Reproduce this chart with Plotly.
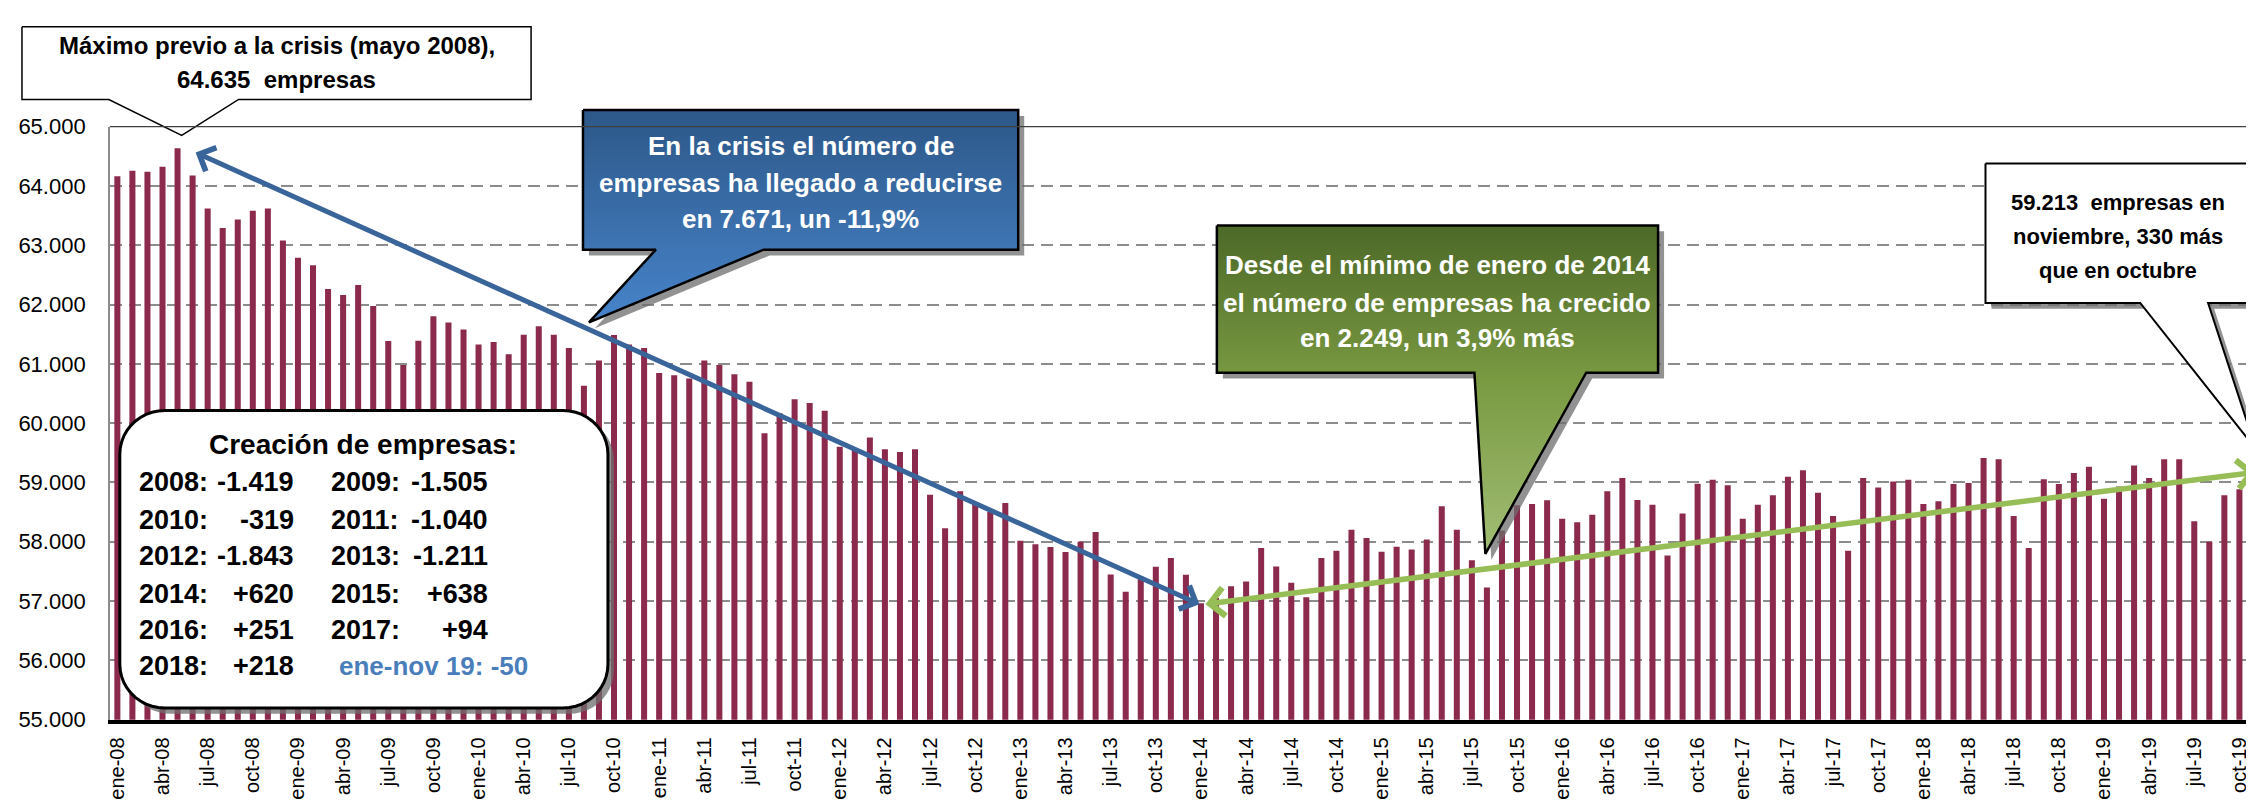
import numpy as np
import plotly.graph_objects as go

W, H = 2254, 807
FONT = "Liberation Sans, Arial, sans-serif"

# ---------------- data ----------------
MONTHS = ['ene', 'feb', 'mar', 'abr', 'may', 'jun', 'jul', 'ago', 'sep', 'oct', 'nov', 'dic']
YEARS = list(range(2008, 2020))
periodos = [f"{m}-{y % 100:02d}" for y in YEARS for m in MONTHS][:143]

empresas = [
    64164, 64257, 64240, 64322, 64635, 64175, 63620, 63290, 63435, 63580, 63620, 63080,  # 2008
    62790, 62660, 62260, 62160, 62330, 61973, 61384, 60980, 61390, 61800, 61697, 61578,  # 2009
    61324, 61368, 61162, 61492, 61632, 61492, 61265, 60632, 61054, 61486, 61324, 61265,  # 2010
    60846, 60808, 60753, 61054, 60978, 60824, 60698, 59830, 60165, 60401, 60340, 60210,  # 2011
    59601, 59574, 59758, 59558, 59514, 59558, 58790, 58227, 58850, 58640, 58503, 58653,  # 2012
    58016, 57957, 57913, 57827, 58000, 58162, 57449, 57157, 57411, 57579, 57725, 57442,  # 2013
    56964, 57050, 57249, 57330, 57892, 57584, 57308, 57065, 57724, 57849, 58200, 58062,  # 2014
    57832, 57914, 57870, 58038, 58600, 58200, 57686, 57227, 58189, 58616, 58638, 58700,  # 2015
    58389, 58330, 58454, 58849, 59076, 58703, 58622, 57768, 58476, 58978, 59043, 58951,  # 2016
    58389, 58622, 58784, 59097, 59205, 58827, 58432, 57849, 59076, 58914, 59016, 59045,  # 2017
    58638, 58681, 58973, 58989, 59411, 59389, 58432, 57892, 59054, 58973, 59157, 59263,  # 2018
    58724, 58930, 59286, 59076, 59389, 59389, 58346, 58000, 58784, 58883, 59213,         # 2019
]

creacion_anios_1 = ["2008:", "2010:", "2012:", "2014:", "2016:", "2018:"]
creacion_valores_1 = ["-1.419", "-319", "-1.843", "+620", "+251", "+218"]
creacion_anios_2 = ["2009:", "2011:", "2013:", "2015:", "2017:"]
creacion_valores_2 = ["-1.505", "-1.040", "-1.211", "+638", "+94"]
creacion_ultimo = "ene-nov 19: -50"

y_ticks = list(range(55000, 65001, 1000))


def miles(v):
    return f"{int(v):,}".replace(",", ".")


def pct(v):
    return f"{v:.1f}".replace(".", ",")


n = len(empresas)
x_idx = np.arange(n)
imax = int(np.argmax(empresas))
imin = int(np.argmin(empresas))
vmax, vmin = empresas[imax], empresas[imin]
last, prev = empresas[-1], empresas[-2]

# ---------------- layout geometry (pixels) ----------------
PX_L, PX_R = 98, W
PY_T, PY_B = 110, 722

fig = go.Figure()

fig.add_trace(go.Bar(
    x=x_idx, y=empresas, marker=dict(color="#8B2A4D", line=dict(width=0)),
    xaxis="x", yaxis="y", hoverinfo="skip"))


# ---------------- callout polygons (pixel space, overlay subplot) ----------------
def poly(points, fill, line_color="black", line_width=2, gradient=None, shadow=True):
    xs = [p[0] for p in points] + [points[0][0]]
    ys = [p[1] for p in points] + [points[0][1]]
    if shadow:
        fig.add_trace(go.Scatter(
            x=[v + 6 for v in xs], y=[v + 6 for v in ys], mode="lines", fill="toself",
            fillcolor="rgba(110,110,110,0.75)", line=dict(width=0, color="rgba(0,0,0,0)"),
            xaxis="x2", yaxis="y2", hoverinfo="skip"))
    kw = {}
    if gradient is not None:
        kw["fillgradient"] = gradient
    else:
        kw["fillcolor"] = fill
    fig.add_trace(go.Scatter(
        x=xs, y=ys, mode="lines", fill="toself", line=dict(width=line_width, color=line_color),
        xaxis="x2", yaxis="y2", hoverinfo="skip", **kw))


def rounded_rect(x0, y0, x1, y1, r, steps=12):
    pts = []
    corners = [(x1 - r, y0 + r, -90, 0), (x1 - r, y1 - r, 0, 90),
               (x0 + r, y1 - r, 90, 180), (x0 + r, y0 + r, 180, 270)]
    for cx, cy, a0, a1 in corners:
        for a in np.linspace(np.radians(a0), np.radians(a1), steps):
            pts.append((cx + r * np.cos(a), cy + r * np.sin(a)))
    return pts


# top-left box (no shadow)
poly([(10, 7), (520, 7), (520, 82), (227, 82), (170, 119), (97, 82), (10, 82)],
     "white", line_width=1.5, shadow=False)
# blue callout
poly([(572, 93), (1008, 93), (1008, 237), (753, 237), (578, 312), (645, 237), (572, 237)],
     None, line_width=2.5,
     gradient=dict(type="vertical", start=93, stop=300,
                   colorscale=[[0, "#2D5889"], [1, "#4784CA"]]))
# green callout
poly([(1207, 212), (1649, 212), (1649, 364), (1577, 364), (1476, 551), (1465, 364), (1207, 364)],
     None, line_width=2.5,
     gradient=dict(type="vertical", start=212, stop=545,
                   colorscale=[[0, "#4F6B29"], [0.45, "#7A9A42"], [1, "#A4C078"]]))
# right callout
poly([(1977, 148), (2243, 148), (2243, 292), (2200, 292), (2248, 443), (2132, 292), (1977, 292)],
     "white", line_width=2)
# creación box
poly(rounded_rect(108, 403, 597, 710, 45), "white", line_width=3)

# ---------------- texts ----------------
ann = []


def txt(x, y, s, size, color="black", anchor="center"):
    ann.append(dict(x=x, y=y, xref="x2", yref="y2", text=s, showarrow=False,
                    xanchor=anchor, yanchor="middle",
                    font=dict(size=size, color=color, family=FONT, weight="bold")))


txt(265, 26, "Máximo previo a la crisis (mayo 2008),", 24)
txt(265, 61, f"{miles(vmax)}  empresas", 24)

caida = vmax - vmin
for yy, s in zip([130, 168, 205], [
        "En la crisis el número de",
        "empresas ha llegado a reducirse",
        f"en {miles(caida)}, un {pct((vmin / vmax - 1) * 100)}%"]):
    txt(790, yy, s, 26, "white")

subida = last - vmin
for yy, s in zip([253, 292, 328], [
        "Desde el mínimo de enero de 2014",
        "el número de empresas ha crecido",
        f"en {miles(subida)}, un {pct((last / vmin - 1) * 100)}% más"]):
    txt(1428, yy, s, 26, "white")

for yy, s in zip([188, 223, 258], [
        f"{miles(last)}  empresas en",
        f"noviembre, {last - prev} más",
        "que en octubre"]):
    txt(2110, yy, s, 22)

txt(352, 438, "Creación de empresas:", 28)
row_y = [477, 516, 553, 592, 629, 667]
for i, yy in enumerate(row_y):
    txt(125, yy, creacion_anios_1[i], 27, anchor="left")
    txt(285, yy, creacion_valores_1[i], 27, anchor="right")
    if i < len(creacion_anios_2):
        txt(318, yy, creacion_anios_2[i], 27, anchor="left")
        txt(479, yy, creacion_valores_2[i], 27, anchor="right")
txt(326, row_y[-1], creacion_ultimo, 26, color="#4A7EBB", anchor="left")

# ---------------- arrows (data coordinates) ----------------
ann.append(dict(x=imin - 0.1, y=vmin - 20, ax=imax + 1.1, ay=vmax - 60,
                xref="x", yref="y", axref="x", ayref="y", text="", showarrow=True,
                arrowside="end+start", arrowhead=4, startarrowhead=4,
                arrowsize=1.0, startarrowsize=1.0, arrowwidth=5, arrowcolor="#3A659A"))
ann.append(dict(x=n - 1 + 0.1, y=last - 40, ax=imin + 0.2, ay=vmin - 20,
                xref="x", yref="y", axref="x", ayref="y", text="", showarrow=True,
                arrowside="end+start", arrowhead=4, startarrowhead=4,
                arrowsize=1.0, startarrowsize=1.0, arrowwidth=5.5, arrowcolor="#97BD57"))

# top border of plot area
shapes = [dict(type="line", xref="paper", yref="paper",
               x0=PX_L / W, x1=1, y0=1 - PY_T / H, y1=1 - PY_T / H,
               line=dict(color="#404040", width=1.2))]

fig.update_layout(
    width=W, height=H, margin=dict(l=0, r=0, t=0, b=0),
    paper_bgcolor="white", plot_bgcolor="rgba(0,0,0,0)",
    showlegend=False, bargap=0.6, separators=",.",
    font=dict(family=FONT, color="black"),
    annotations=ann, shapes=shapes,
    xaxis=dict(domain=[PX_L / W, PX_R / W], range=[-0.5, n - 0.5],
               tickmode="array", tickvals=list(range(0, n, 3)),
               ticktext=[periodos[i] for i in range(0, n, 3)],
               tickangle=-90, ticks="", showgrid=False, zeroline=False,
               showline=True, linecolor="black", linewidth=3.5,
               tickfont=dict(size=20, family=FONT, color="black"),
               ticklabelstandoff=6, fixedrange=True),
    yaxis=dict(domain=[1 - PY_B / H, 1 - PY_T / H], range=[55000, 65000],
               tickmode="array", tickvals=y_ticks,
               ticktext=[miles(v) for v in y_ticks],
               showgrid=True, gridcolor="#8C8C8C", gridwidth=2, griddash="12px,7px",
               zeroline=False, showline=True, linecolor="#8C8C8C", linewidth=1.5,
               ticks="", tickfont=dict(size=22, family=FONT, color="black"),
               ticklabelstandoff=18, fixedrange=True),
    xaxis2=dict(domain=[0, 1], range=[0, W], visible=False, fixedrange=True, anchor="y2"),
    yaxis2=dict(domain=[0, 1], range=[H, 0], visible=False, fixedrange=True, anchor="x2"),
)

fig.write_html("out.html")
